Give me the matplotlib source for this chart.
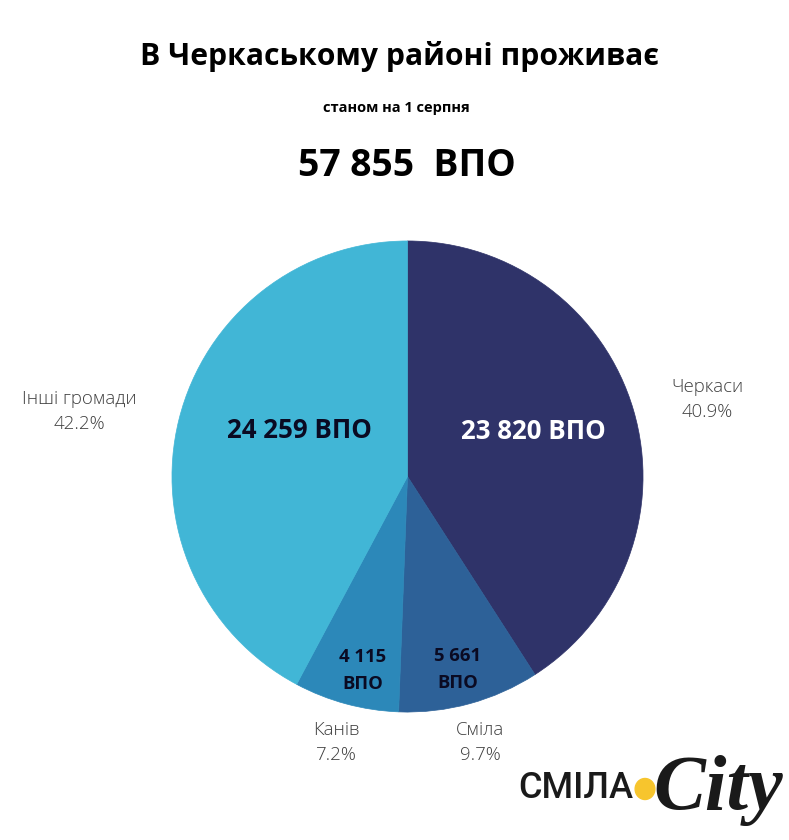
"""Pie chart of displaced persons in Cherkasy district."""

import matplotlib
matplotlib.use("Agg")
import matplotlib.pyplot as plt
from matplotlib.patches import Circle

plt.rcParams["font.family"] = ["Open Sans", "DejaVu Sans"]

# clockwise from 12 o'clock
names = ["Черкаси", "Сміла", "Канів", "Інші громади"]
shares = [40.9, 9.7, 7.2, 42.2]
counts = ["23 820 ВПО", "5 661\nВПО", "4 115\nВПО", "24 259 ВПО"]
colors = ["#2f3369", "#2d6198", "#2c88b9", "#41b6d6"]

W, H = 789, 840
fig = plt.figure(figsize=(W / 100, H / 100), dpi=100, facecolor="white")

# pie centre (407.5, 476.5), radius 236 px
ax = fig.add_axes([(407.5 - 236) / W, 1 - (476.5 + 236) / H, 472 / W, 472 / H])
wedges, _ = ax.pie(shares, colors=colors, startangle=90, counterclock=False, radius=0.998)
# same colour edge hides the seams between slices
for w, c in zip(wedges, colors):
    w.set_edgecolor(c)
    w.set_linewidth(0.5)
ax.set_xlim(-1, 1)
ax.set_ylim(-1, 1)


def px(x, y, s, **kw):
    return fig.text(x / W, 1 - y / H, s, ha="center", va="center", **kw)


px(400, 56, "В Черкаському районі проживає", fontsize=21.7, fontweight="bold", color="black")
px(396.5, 108, "станом на 1 серпня", fontsize=10.5, fontweight="bold", color="black")
px(407, 166, "57 855  ВПО", fontsize=26.8, fontweight="bold", color="black")

# outer labels
label_pos = [(707, 399.5), (480, 742.5), (336, 742.5), (79, 411.5)]
for (x, y), n, s in zip(label_pos, names, shares):
    px(x, y, f"{n}\n{s}%", fontsize=13.4, color="#3f3f3f", linespacing=1.55, fontweight="light")

# inner labels
count_pos = [(533, 432), (458, 669.5), (363, 670.5), (299, 431)]
count_cols = ["white", "#0a0a22", "#0a0a22", "#0a0a22"]
count_size = [18.6, 13.3, 13.3, 18.6]
for (x, y), c, col, fs in zip(count_pos, counts, count_cols, count_size):
    px(x, y, c, fontsize=fs, fontweight="bold", color=col, linespacing=1.6)

# logo
px(576, 788, "СМІЛА", fontsize=26, fontweight="medium", family="Roboto", color="#1a1a1a")
fig.add_artist(Circle((645 / W, 1 - 789 / H), 0.0125, color="#f7c52d",
                      transform=fig.transFigure))
px(718, 791, "City", fontsize=56, fontweight="bold", style="italic",
   family="Liberation Serif", color="#1a1a1a")

fig.savefig("out.png", dpi=100, facecolor="white")
